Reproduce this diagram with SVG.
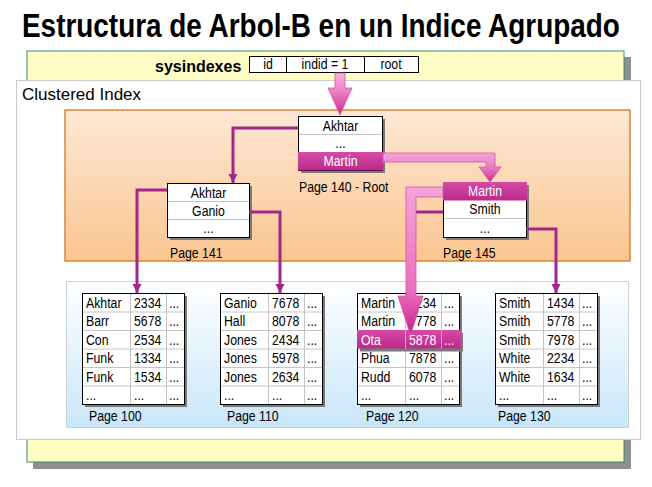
<svg xmlns="http://www.w3.org/2000/svg" width="652" height="487" viewBox="0 0 652 487">
<defs>
<linearGradient id="gOrange" x1="0" y1="0" x2="0" y2="1"><stop offset="0" stop-color="#fde8d4"/><stop offset="1" stop-color="#fbc590"/></linearGradient>
<linearGradient id="gBlue" x1="0" y1="0" x2="0" y2="1"><stop offset="0" stop-color="#ffffff"/><stop offset="1" stop-color="#c8e6f9"/></linearGradient>
<linearGradient id="gHi" x1="0" y1="0" x2="0" y2="1"><stop offset="0" stop-color="#d64aa6"/><stop offset="1" stop-color="#bb2a8c"/></linearGradient>
<linearGradient id="gA1" gradientUnits="userSpaceOnUse" x1="0" y1="73" x2="0" y2="115"><stop offset="0" stop-color="#f6b0e0"/><stop offset="0.4" stop-color="#ee84c8"/><stop offset="1" stop-color="#cf2a8f"/></linearGradient>
<linearGradient id="gA2" gradientUnits="userSpaceOnUse" x1="0" y1="153" x2="0" y2="182"><stop offset="0" stop-color="#f3a6da"/><stop offset="0.5" stop-color="#eb7cc4"/><stop offset="1" stop-color="#cc2a8e"/></linearGradient>
<linearGradient id="gA3" gradientUnits="userSpaceOnUse" x1="0" y1="187" x2="0" y2="335"><stop offset="0" stop-color="#f4a4da"/><stop offset="0.7" stop-color="#ea6fc0"/><stop offset="1" stop-color="#c81f88"/></linearGradient>
<marker id="ah" markerUnits="userSpaceOnUse" markerWidth="10" markerHeight="10" refX="9" refY="4.5" orient="auto"><path d="M0,0 L9,4.5 L0,9 z" fill="#a1278c"/></marker>
<style>
.t{font-family:"Liberation Sans Narrow","Liberation Sans",Arial,sans-serif;font-size:15px;fill:#000;transform-box:fill-box;transform-origin:0 50%;transform:scaleX(0.82)}
.c{text-anchor:middle;transform-origin:50% 50%}
.w{fill:#fff}
.box{fill:#fff;stroke:#000;stroke-width:1}
.sh{fill:#7a7a7a}
.sep{stroke:#c4c4c4;stroke-width:1}
.hi{fill:url(#gHi)}
.ln{fill:none;stroke:#a1278c;stroke-width:3;marker-end:url(#ah)}
.big{stroke:#d0579f;stroke-width:0.8}
</style>
</defs>
<rect width="652" height="487" fill="#fff"/>
<text transform="translate(22,37) scale(0.846,1)" x="0" y="0" font-family="'Liberation Sans',sans-serif" font-weight="bold" font-size="33">Estructura de Arbol-B en un Indice Agrupado</text>

<g id="panel">
<rect x="33" y="57" width="598" height="412" fill="#8f8f8f"/>
<rect x="27" y="51" width="597" height="411" fill="#fdfdc4" stroke="#3c8c6c" stroke-width="1"/>
</g>

<g id="sysindexes">
<text x="155" y="72" font-family="'Liberation Sans',Arial,sans-serif" font-weight="bold" font-size="16">sysindexes</text>
<rect x="249.5" y="56.5" width="169" height="16" fill="#fff" stroke="#000"/>
<line x1="286.5" y1="56.5" x2="286.5" y2="72.5" stroke="#000"/>
<line x1="364.5" y1="56.5" x2="364.5" y2="72.5" stroke="#000"/>
<text class="t c" x="268" y="69" font-size="14">id</text>
<text class="t c" x="325" y="69" font-size="14">indid = 1</text>
<text class="t c" x="391" y="69" font-size="14">root</text>
</g>

<g id="clustered">
<rect x="16.5" y="80.5" width="624" height="359" fill="#fff" stroke="#cacaca"/>
<text x="22" y="100" font-family="'Liberation Sans',Arial,sans-serif" font-size="17">Clustered Index</text>
<rect x="65" y="110" width="565" height="151" fill="url(#gOrange)" stroke="#d8863a" stroke-width="1.5"/>
<rect x="66.5" y="281.5" width="562" height="146" fill="url(#gBlue)" stroke="#c9d1d9"/>
</g>

<g id="root">
<rect class="sh" x="301" y="119" width="84" height="54"/>
<rect class="box" x="298.5" y="116.5" width="84" height="54"/>
<line class="sep" x1="299" y1="134.5" x2="382" y2="134.5"/>
<rect class="hi" x="298" y="152" width="85" height="18.5"/>
<text class="t c" x="340.5" y="131">Akhtar</text>
<text class="t c" x="340.5" y="148">...</text>
<text class="t c w" x="340.5" y="166">Martin</text>
<text class="t" x="299" y="192">Page 140 - Root</text>
</g>

<g id="page141">
<rect class="sh" x="170" y="186" width="82" height="54"/>
<rect class="box" x="167.5" y="183.5" width="82" height="54"/>
<line class="sep" x1="168" y1="201.5" x2="249" y2="201.5"/>
<line class="sep" x1="168" y1="219.5" x2="249" y2="219.5"/>
<text class="t c" x="208.5" y="198">Akhtar</text>
<text class="t c" x="208.5" y="216">Ganio</text>
<text class="t c" x="208.5" y="233">...</text>
<text class="t" x="170" y="258">Page 141</text>
</g>

<g id="page145">
<rect class="sh" x="446" y="185" width="83" height="55"/>
<rect class="box" x="443.5" y="182.5" width="83" height="55"/>
<rect class="hi" x="443" y="182" width="84" height="18.5"/>
<line class="sep" x1="444" y1="218.5" x2="526" y2="218.5"/>
<text class="t c w" x="485" y="196">Martin</text>
<text class="t c" x="485" y="214">Smith</text>
<text class="t c" x="485" y="233">...</text>
<text class="t" x="443" y="258">Page 145</text>
</g>

<g id="page100">
<rect class="sh" x="85" y="296" width="102" height="111"/>
<rect class="box" x="82.5" y="293.5" width="102" height="111"/>
<path class="sep" d="M83,312H184M83,330.5H184M83,349H184M83,367.5H184M83,386H184M130.5,294V404M166.5,294V404"/>
<text class="t" x="86" y="308">Akhtar</text><text class="t" x="134" y="308">2334</text><text class="t" x="169" y="308">...</text>
<text class="t" x="86" y="326">Barr</text><text class="t" x="134" y="326">5678</text><text class="t" x="169" y="326">...</text>
<text class="t" x="86" y="345">Con</text><text class="t" x="134" y="345">2534</text><text class="t" x="169" y="345">...</text>
<text class="t" x="86" y="363">Funk</text><text class="t" x="134" y="363">1334</text><text class="t" x="169" y="363">...</text>
<text class="t" x="86" y="382">Funk</text><text class="t" x="134" y="382">1534</text><text class="t" x="169" y="382">...</text>
<text class="t" x="86" y="400">...</text><text class="t" x="134" y="400">...</text><text class="t" x="169" y="400">...</text>
<text class="t" x="89" y="421">Page 100</text>
</g>

<g id="page110">
<rect class="sh" x="223" y="296" width="102" height="111"/>
<rect class="box" x="220.5" y="293.5" width="102" height="111"/>
<path class="sep" d="M221,312H322M221,330.5H322M221,349H322M221,367.5H322M221,386H322M268.5,294V404M304.5,294V404"/>
<text class="t" x="224" y="308">Ganio</text><text class="t" x="272" y="308">7678</text><text class="t" x="307" y="308">...</text>
<text class="t" x="224" y="326">Hall</text><text class="t" x="272" y="326">8078</text><text class="t" x="307" y="326">...</text>
<text class="t" x="224" y="345">Jones</text><text class="t" x="272" y="345">2434</text><text class="t" x="307" y="345">...</text>
<text class="t" x="224" y="363">Jones</text><text class="t" x="272" y="363">5978</text><text class="t" x="307" y="363">...</text>
<text class="t" x="224" y="382">Jones</text><text class="t" x="272" y="382">2634</text><text class="t" x="307" y="382">...</text>
<text class="t" x="224" y="400">...</text><text class="t" x="272" y="400">...</text><text class="t" x="307" y="400">...</text>
<text class="t" x="227" y="421">Page 110</text>
</g>

<g id="page120">
<rect class="sh" x="360" y="296" width="102" height="111"/>
<rect class="box" x="357.5" y="293.5" width="102" height="111"/>
<path class="sep" d="M358,312H459M358,330.5H459M358,349H459M358,367.5H459M358,386H459M405.5,294V404M441.5,294V404"/>
<rect class="sh" x="360" y="333" width="103" height="18.5"/>
<rect class="hi" x="357" y="330" width="104" height="18.5"/>
<line x1="405.5" y1="330" x2="405.5" y2="348.5" stroke="#e8a0d0" stroke-width="1"/>
<line x1="441.5" y1="330" x2="441.5" y2="348.5" stroke="#e8a0d0" stroke-width="1"/>
<text class="t" x="361" y="308">Martin</text><text class="t" x="409" y="308">1234</text><text class="t" x="444" y="308">...</text>
<text class="t" x="361" y="326">Martin</text><text class="t" x="409" y="326">7778</text><text class="t" x="444" y="326">...</text>
<text class="t w" x="361" y="345">Ota</text><text class="t w" x="409" y="345">5878</text><text class="t w" x="444" y="345">...</text>
<text class="t" x="361" y="363">Phua</text><text class="t" x="409" y="363">7878</text><text class="t" x="444" y="363">...</text>
<text class="t" x="361" y="382">Rudd</text><text class="t" x="409" y="382">6078</text><text class="t" x="444" y="382">...</text>
<text class="t" x="361" y="400">...</text><text class="t" x="409" y="400">...</text><text class="t" x="444" y="400">...</text>
<text class="t" x="366" y="421">Page 120</text>
</g>

<g id="page130">
<rect class="sh" x="498" y="296" width="102" height="111"/>
<rect class="box" x="495.5" y="293.5" width="102" height="111"/>
<path class="sep" d="M496,312H597M496,330.5H597M496,349H597M496,367.5H597M496,386H597M543.5,294V404M579.5,294V404"/>
<text class="t" x="499" y="308">Smith</text><text class="t" x="547" y="308">1434</text><text class="t" x="582" y="308">...</text>
<text class="t" x="499" y="326">Smith</text><text class="t" x="547" y="326">5778</text><text class="t" x="582" y="326">...</text>
<text class="t" x="499" y="345">Smith</text><text class="t" x="547" y="345">7978</text><text class="t" x="582" y="345">...</text>
<text class="t" x="499" y="363">White</text><text class="t" x="547" y="363">2234</text><text class="t" x="582" y="363">...</text>
<text class="t" x="499" y="382">White</text><text class="t" x="547" y="382">1634</text><text class="t" x="582" y="382">...</text>
<text class="t" x="499" y="400">...</text><text class="t" x="547" y="400">...</text><text class="t" x="582" y="400">...</text>
<text class="t" x="498" y="421">Page 130</text>
</g>

<g id="connectors">
<path class="ln" d="M298,128H233V183"/>
<path class="ln" d="M167,190H137V293"/>
<path class="ln" d="M249,212H280V293"/>
<path class="ln" d="M443,212H411V293"/>
<path class="ln" d="M526,229H556V293"/>
<path class="big" fill="url(#gA1)" d="M335,73H345V88H352L340,115L328,88H335Z"/>
<path class="big" fill="url(#gA2)" d="M383,153H495V167H501L490,182L479,167H486V162H383Z"/>
<path class="big" fill="url(#gA3)" d="M443,187V197H416V296H423L410.5,335L398,296H406V187Z"/>
</g>
</svg>
